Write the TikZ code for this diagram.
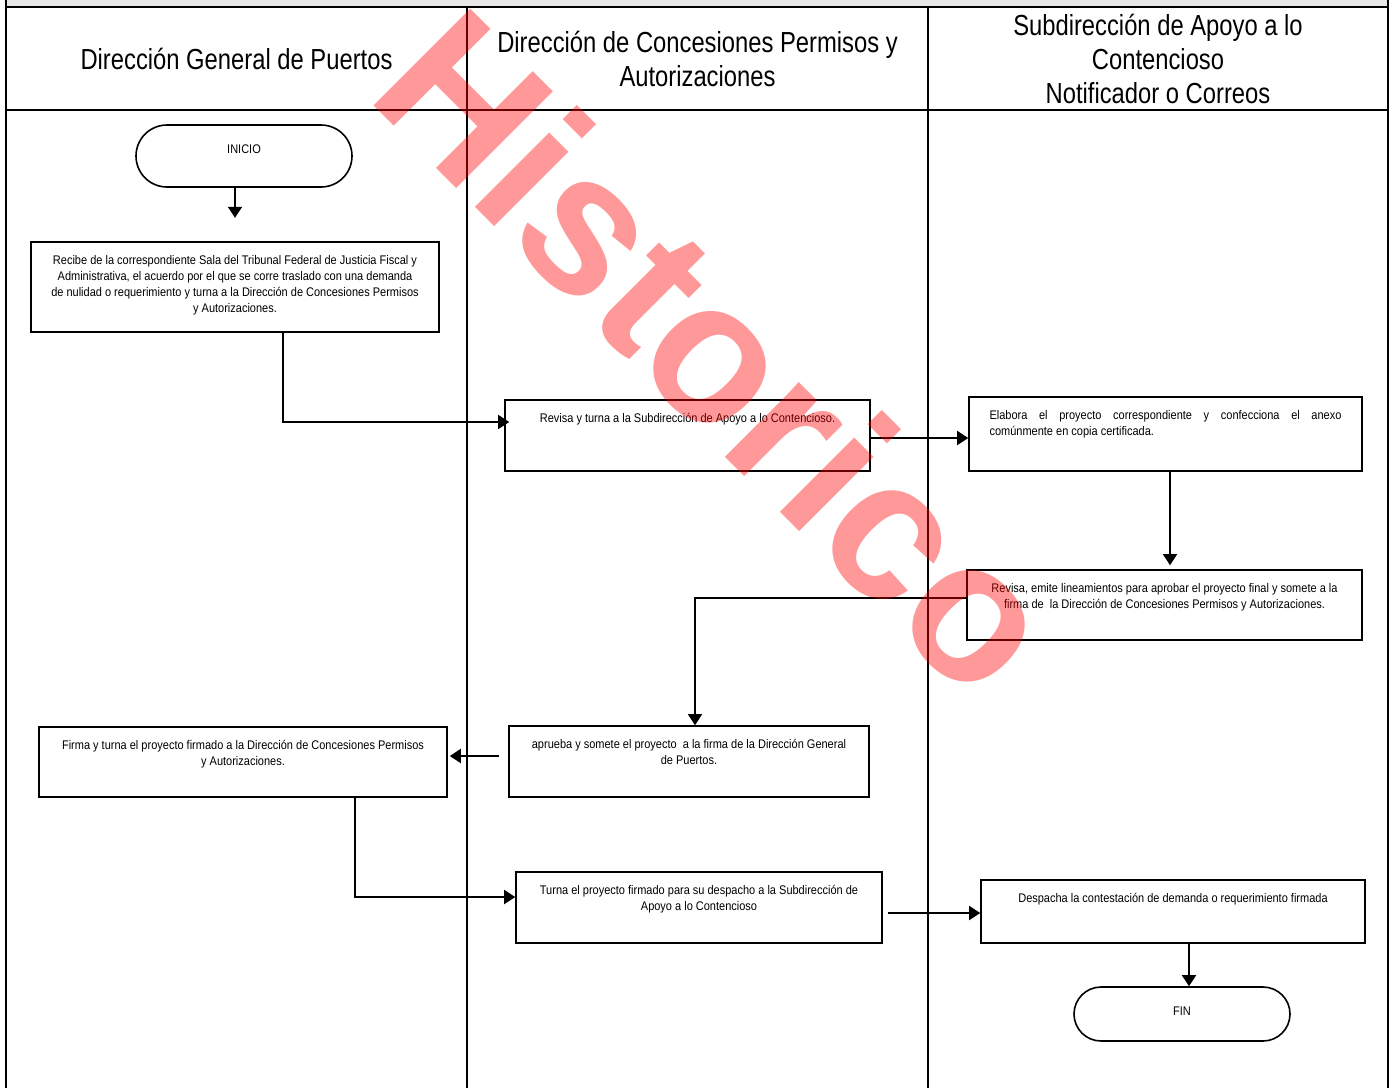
\documentclass[tikz,border=0pt]{standalone}
\usepackage{fontspec}
\setmainfont{Liberation Sans}
\newfontfamily\narrowfont[FakeStretch=0.82]{Liberation Sans}
\newfontfamily\stepfont[FakeStretch=0.88]{Liberation Sans}
\usepackage{tikz}
\usetikzlibrary{arrows.meta, shapes.misc}

\newcommand{\steptext}[3]{\parbox[c][#2][t]{#1}{\centering\rule{0pt}{22pt}#3}}
\newcommand{\steptextj}[3]{\parbox[c][#2][t]{#1}{\rule{0pt}{22pt}#3}}

\begin{document}
\begin{tikzpicture}[
  x=1pt, y=-1pt,
  stepbox/.style={rectangle, draw, line width=1.6pt, inner xsep=10pt, inner ysep=0pt,
    font=\stepfont\fontsize{12.5}{16}\selectfont},
  endcap/.style={rounded rectangle, draw, line width=1.6pt, minimum width=216pt,
    inner sep=0pt, font=\stepfont\fontsize{12.5}{16}\selectfont},
  lanehead/.style={align=center, font=\narrowfont\fontsize{29}{34}\selectfont},
  lane/.style={line width=1.6pt},
  arr/.style={-{Triangle[length=11pt,width=14pt]}, line width=1.8pt},
  watermark/.style={anchor=base west, rotate=-45, inner sep=0pt, text=red,
    text opacity=0.4, font=\bfseries\fontsize{199}{199}\selectfont}
]
\useasboundingbox (0,0) rectangle (1391,1088);

% Lanes
\fill[gray!18] (6,0) rectangle (1388,7);
\draw[lane] (6,0) -- (6,1088);
\draw[lane] (1388,0) -- (1388,1088);
\draw[lane] (467,7) -- (467,1088);
\draw[lane] (928,7) -- (928,1088);
\draw[lane] (6,7) -- (1388,7);
\draw[lane] (6,110) -- (1388,110);

\node[lanehead] (dgp) at (236.5,59) {Dirección General de Puertos};
\node[lanehead] (dcpa) at (697.5,59) {Dirección de Concesiones Permisos y\\Autorizaciones};
\node[lanehead] (sac) at (1158,59) {Subdirección de Apoyo a lo\\Contencioso\\Notificador o Correos};

% Steps
\node[endcap, minimum height=62pt] (inicio) at (244,156)
  {\raisebox{7pt}[\height][\depth]{INICIO}};
\node[stepbox] (recibe) at (235,287) {\steptext{388pt}{90pt}{Recibe de la correspondiente Sala del Tribunal Federal de Justicia Fiscal y\\
  Administrativa, el acuerdo por el que se corre traslado con una demanda\\
  de nulidad o requerimiento y turna a la Dirección de Concesiones Permisos\\
  y Autorizaciones.}};
\node[stepbox] (revisa) at (687.5,435.5) {\steptext{345pt}{71pt}{Revisa y turna a la Subdirección de Apoyo a lo Contencioso.}};
\node[stepbox, inner xsep=20.5pt] (elabora) at (1165.5,434) {\steptextj{352pt}{74pt}{Elabora el proyecto correspondiente y confecciona el anexo\linebreak
  comúnmente en copia certificada.}};
\node[stepbox] (emite) at (1164.5,605) {\steptext{375pt}{70pt}{Revisa, emite lineamientos para aprobar el proyecto final y somete a la\\
  firma de\ \ la Dirección de Concesiones Permisos y Autorizaciones.}};
\node[stepbox] (aprueba) at (689,761.5) {\steptext{340pt}{71pt}{aprueba y somete el proyecto\ \ a la firma de la Dirección General\\
  de Puertos.}};
\node[stepbox] (firma) at (243,762) {\steptext{388pt}{70pt}{Firma y turna el proyecto firmado a la Dirección de Concesiones Permisos\\
  y Autorizaciones.}};
\node[stepbox] (turna) at (699,907.5) {\steptext{346pt}{71pt}{Turna el proyecto firmado para su despacho a la Subdirección de\\
  Apoyo a lo Contencioso}};
\node[stepbox] (despacha) at (1173,911.5) {\steptext{364pt}{63pt}{Despacha la contestación de demanda o requerimiento firmada}};
\node[endcap, minimum height=54pt] (fin) at (1182,1014)
  {\raisebox{3pt}[\height][\depth]{FIN}};

% Arrows
\draw[arr] (inicio.south -| recibe.north) -- ++(0,30);
\draw[arr] ([xshift=48pt]recibe.south) |- ([xshift=5pt,yshift=13.5pt]revisa.west);
\draw[arr] ([yshift=-2.5pt]revisa.east) -- ([yshift=-4pt]elabora.west);
\draw[arr] ([xshift=4.5pt]elabora.south) -- ([xshift=5.5pt,yshift=4pt]emite.north);
\draw[arr] ([yshift=7pt]emite.west) -| ([xshift=6pt]aprueba.north);
\draw[arr] ([xshift=-9pt,yshift=5.5pt]aprueba.west) -- ([xshift=2pt,yshift=6pt]firma.east);
\draw[arr] ([xshift=112pt]firma.south) |- ([yshift=10.5pt]turna.west);
\draw[arr] ([xshift=5pt,yshift=-5.5pt]turna.east) -- ([yshift=-1.5pt]despacha.west);
\draw[arr] ([xshift=16pt]despacha.south) -- ([xshift=7pt]fin.north);

\node[watermark] (marca) at (364,96) {Historico};
\end{tikzpicture}
\end{document}
